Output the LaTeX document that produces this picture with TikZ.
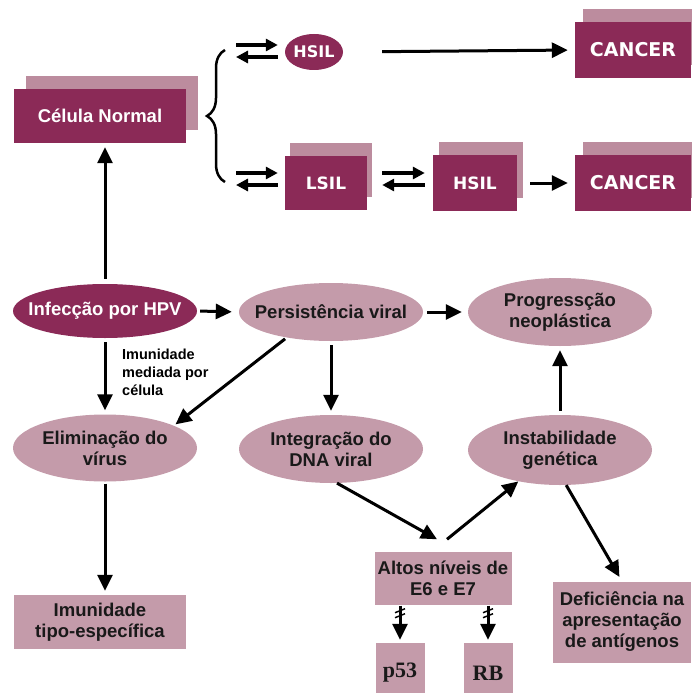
\documentclass[tikz,border=0pt]{standalone}
\usepackage{fontspec}
\setmainfont{Liberation Sans}
\newfontfamily\capsfont{DejaVu Sans}
\newfontfamily\serifa{Liberation Serif}
\usetikzlibrary{arrows.meta,shapes.geometric,shadows,decorations.pathreplacing}
\definecolor{vinho}{RGB}{139,42,87}
\definecolor{rosa}{RGB}{196,155,170}
\definecolor{rosaclaro}{RGB}{188,140,158}
\begin{document}
\begin{tikzpicture}[x=1pt,y=-1pt,
  every node/.style={font=\fontsize{18.5}{21}\selectfont\bfseries, align=center, inner sep=0pt},
  escuro/.style={fill=vinho, text=white},
  claro/.style={fill=rosa, text=black!90},
  oval/.style={ellipse, inner xsep=-18pt, minimum width=184pt, minimum height=#1},
  caixa/.style={rectangle, minimum width=#1},
  pilha/.style={general shadow={fill=rosaclaro, shadow xshift=#1, shadow yshift=13pt}},
  sigla/.style={font=\capsfont\bfseries\fontsize{#1}{#1}\selectfont},
  seta/.style={-{Triangle[length=16pt,width=15pt]}, line width=3pt},
  setinha/.style={-{Triangle[length=12pt,width=12pt]}, line width=3.5pt}]
\useasboundingbox (0,0) rectangle (691,693);
\node[caixa=172pt, minimum height=54pt, escuro, pilha=12pt] (celula) at (100,116) {Célula Normal};
\node[oval=36pt, minimum width=58pt, escuro, sigla=16] (hsila) at (314,52) {HSIL};
\node[caixa=116pt, minimum height=56pt, escuro, pilha=8pt, sigla=19] (cancera) at (633,50) {CANCER};
\node[caixa=82pt, minimum height=54pt, escuro, pilha=5pt, sigla=17] (lsil) at (326,183) {LSIL};
\node[caixa=84pt, minimum height=56pt, escuro, pilha=6pt, sigla=17] (hsilb) at (475,183) {HSIL};
\node[caixa=116pt, minimum height=56pt, escuro, pilha=8pt, sigla=19] (cancerb) at (633,183) {CANCER};
\node[oval=54pt, escuro] (infec) at (105,311) {Infecção por HPV};
\node[oval=58pt, claro] (persist) at (331,312) {Persistência viral};
\node[oval=68pt, claro] (prog) at (560,312) {Progressção\\neoplástica};
\node[oval=67pt, claro] (elim) at (105,448) {Eliminação do\\vírus};
\node[oval=68pt, claro] (integ) at (331,449) {Integração do\\DNA viral};
\node[oval=70pt, claro] (instab) at (560,450) {Instabilidade\\genética};
\node[caixa=172pt, minimum height=54pt, claro] (imun) at (100,622) {Imunidade\\tipo-específica};
\node[caixa=137pt, minimum height=53pt, claro] (altos) at (443,578) {Altos níveis de\\E6 e E7};
\node[caixa=138pt, minimum height=81pt, claro] (defic) at (622,622) {Deficiência na\\apresentação\\de antígenos};
\node[caixa=49pt, minimum height=60pt, claro, font=\serifa\bfseries\fontsize{22}{24}\selectfont] (p53) at (400,673) {p53};
\node[caixa=49pt, minimum height=60pt, claro, font=\serifa\bfseries\fontsize{22}{24}\selectfont] (rb) at (488,673) {RB};
\node[anchor=north west, align=left, font=\fontsize{14.5}{18}\selectfont\bfseries] (imlabel) at (122,349) {Imunidade\\mediada por\\célula};
\coordinate (chavetop) at (225,50);
\coordinate (chavebot) at (225,182);
\coordinate (ba) at (236,52);
\coordinate (bb) at (236,183);
\draw[decorate, decoration={brace, amplitude=18pt}, line width=2.5pt] (chavebot) -- (chavetop);
\draw[setinha, shorten >=7pt] ([yshift=7pt]ba) -- ([yshift=7pt]hsila.west);
\draw[setinha, shorten <=7pt] ([yshift=-5pt]hsila.west) -- ([yshift=-5pt]ba);
\draw[setinha, shorten >=7pt] ([yshift=10pt]bb) -- ([yshift=10pt]lsil.west);
\draw[setinha, shorten <=7pt] ([yshift=-2pt]lsil.west) -- ([yshift=-2pt]bb);
\draw[setinha, shorten <=15pt, shorten >=8pt] ([yshift=10pt]lsil.east) -- ([yshift=10pt]hsilb.west);
\draw[setinha, shorten <=8pt, shorten >=15pt] ([yshift=-2pt]hsilb.west) -- ([yshift=-2pt]lsil.east);
\draw[seta, shorten <=39pt, shorten >=7pt] (hsila.east) -- (cancera.west);
\draw[seta, shorten <=13pt, shorten >=7pt] (hsilb.east) -- (cancerb.west);
\draw[seta, shorten <=5pt, shorten >=4pt] (infec.north) -- (infec.north |- celula.south);
\draw[seta, shorten <=4pt, shorten >=4pt] (infec.south) -- (elim.north);
\draw[seta, shorten <=3pt, shorten >=7pt] (infec.east) -- (persist.west);
\draw[seta, shorten <=4pt, shorten >=6pt] (persist.east) -- (prog.west);
\draw[seta, shorten <=2pt, shorten >=2pt] (persist.210) -- (elim.18);
\draw[seta, shorten <=4pt, shorten >=4pt] (persist.south) -- (integ.north);
\draw[seta] (integ.-80) -- ([xshift=-6pt,yshift=12pt]altos.north);
\draw[seta] ([xshift=4pt,yshift=12pt]altos.north) -- (instab.217);
\draw[seta, shorten <=4pt, shorten >=4pt] (instab.north) -- (prog.south);
\draw[seta, shorten >=5pt] (instab.-80) -- (defic.north);
\draw[seta, shorten <=2pt, shorten >=4pt] (elim.south) -- (elim.south |- imun.north);
\foreach \n in {p53,rb} {
  \coordinate (mk) at (altos.south -| \n);
  \draw[seta, shorten <=1pt, shorten >=3pt] (mk) -- (\n.north);
  \draw[line width=1.5pt] ([xshift=-5pt,yshift=-8pt]mk) -- ++(10,-4);
  \draw[line width=1.5pt] ([xshift=-5pt,yshift=-13pt]mk) -- ++(10,-4);
}
\end{tikzpicture}
\end{document}
